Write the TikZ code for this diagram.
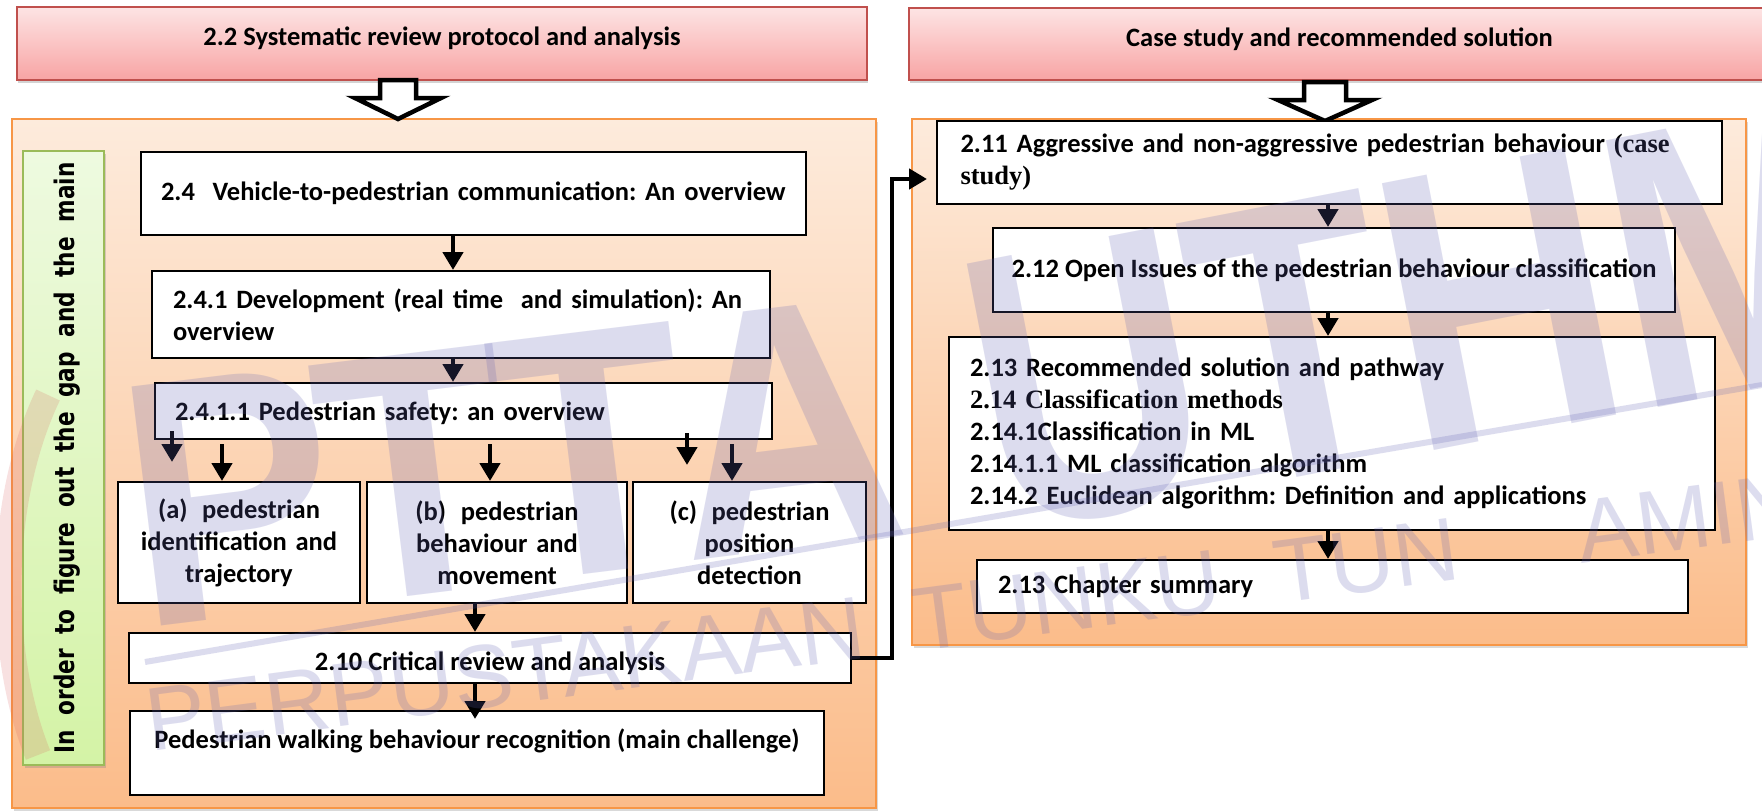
\documentclass[tikz,border=0pt]{standalone}
\usepackage{fontspec}
\setmainfont{Carlito}
\newfontfamily\tnrfont{Liberation Serif}
\newfontfamily\sidefont{DejaVu Sans}[FakeStretch=0.8]
\newfontfamily\wmbigfont{Liberation Sans}[FakeStretch=0.9]
\newfontfamily\wmbigfontR{Liberation Sans}[FakeStretch=0.8]
\newfontfamily\wmsmallfont{Liberation Sans}
\usetikzlibrary{arrows.meta,shadows}

\definecolor{hdtop}{RGB}{253,228,228}
\definecolor{hdbot}{RGB}{248,164,164}
\definecolor{hdline}{RGB}{192,80,77}
\definecolor{pntop}{RGB}{253,235,220}
\definecolor{pnbot}{RGB}{251,188,138}
\definecolor{pnline}{RGB}{247,150,70}
\definecolor{gntop}{RGB}{238,250,224}
\definecolor{gnbot}{RGB}{212,243,166}
\definecolor{gnline}{RGB}{155,187,89}
\definecolor{wmark}{RGB}{100,100,180}
\definecolor{wmring}{RGB}{215,90,90}

\newcommand\mainfs{\fontsize{26.5}{32}\selectfont\bfseries}
\frenchspacing

\begin{document}
\begin{tikzpicture}[x=1pt,y=-1pt,
  hdr/.style={draw=hdline, line width=1.5pt, top color=hdtop, bottom color=hdbot,
    inner sep=0pt, font=\mainfs,
    drop shadow={shadow xshift=1pt, shadow yshift=-3pt, opacity=0.35}},
  panel/.style={draw=pnline, line width=1.5pt, top color=pntop, bottom color=pnbot,
    drop shadow={shadow xshift=2pt, shadow yshift=-3pt, opacity=0.3}},
  side/.style={draw=gnline, line width=1.5pt, top color=gntop, bottom color=gnbot,
    drop shadow={shadow xshift=2pt, shadow yshift=-3pt, opacity=0.3}},
  wbox/.style={draw=black, line width=2pt, fill=white, inner sep=0pt, font=\mainfs},
  conn/.style={line width=4.5pt, -{Triangle[length=18pt,width=20pt]}},
  hollow/.style={draw=black, line width=4.5pt, fill=white, line join=miter},
  wm/.style={text=wmark, opacity=0.22, text opacity=0.22, inner sep=0pt},
]
\useasboundingbox (0,0) rectangle (1762,811);

% headers
\node[hdr, minimum width=850, minimum height=73, text height=12pt, text depth=8pt]
  (hL) at (442,43.5) {2.2 Systematic review protocol and analysis};
\node[hdr, minimum width=861, minimum height=72, text height=12pt, text depth=8pt]
  (hR) at (1339.5,44) {Case study and recommended solution};

% panels
\node[panel, minimum width=864, minimum height=689] (pL) at (444,463.5) {};
\node[panel, minimum width=834, minimum height=526] (pR) at (1329,382) {};
\node[side, minimum width=81, minimum height=614] (gs) at (63.5,458) {};
\node[rotate=90, anchor=base, inner sep=0pt, font=\sidefont\bfseries\fontsize{27}{27}\selectfont]
  (gsT) at (74,458) {\makebox[591pt][s]{In order to figure out the gap and the main}};

% block arrows below the headers
\draw[hollow] (380,80) -- (416,80) -- (416,98) -- (441,98) -- (398,119)
  -- (355,98) -- (380,98) -- cycle;
\draw[hollow] (1304,82) -- (1346,82) -- (1346,100) -- (1372,100) -- (1325,121)
  -- (1278,100) -- (1304,100) -- cycle;

% left column boxes
\node[wbox, minimum height=83, text width=625, inner xsep=20, align=left]
  (b24) at (473.5,193.5) {2.4\ \ Vehicle-to-pedestrian communication: An overview};
\node[wbox, minimum height=87, text width=576, inner xsep=21, align=left]
  (b241) at (461,314.5) {\makebox[576pt][s]{2.4.1 Development (real time\ \ and simulation): An}\\overview};
\node[wbox, minimum height=56, text width=577, inner xsep=20, align=left, text height=22pt, text depth=3pt]
  (b2411) at (463.5,411) {2.4.1.1 Pedestrian safety: an overview};
\node[wbox, minimum height=121, text width=230, inner xsep=6, align=center]
  (ba) at (239,542.5) {(a)\hspace{.55em}pedestrian\\identification and\\trajectory};
\node[wbox, minimum height=121, text width=248, inner xsep=6, align=center]
  (bb) at (497,542.5) {(b)\hspace{.55em}pedestrian\\behaviour and\\movement};
\node[wbox, minimum height=121, text width=221, inner xsep=6, align=center]
  (bc) at (749.5,542.5) {(c)\hspace{.55em}pedestrian\\position\\detection};
\node[wbox, minimum width=722, minimum height=50, text height=24pt, text depth=0pt]
  (b210) at (490,658) {2.10 Critical review and analysis};
\node[wbox, minimum width=694, minimum height=84, text height=5pt, text depth=15pt]
  (bwalk) at (477,753) {Pedestrian walking behaviour recognition (main challenge)};

% right column boxes
\node[wbox, minimum height=83, text width=738, inner xsep=23.5, align=left]
  (b211) at (1329.5,162.5) {\makebox[738pt][s]{2.11 Aggressive and non-aggressive pedestrian behaviour {\tnrfont(case}}\\{\tnrfont study)}};
\node[wbox, minimum width=682, minimum height=84]
  (b212) at (1334,270) {2.12 Open Issues of the pedestrian behaviour classification};
\node[wbox, minimum height=193, text width=724, inner xsep=21, align=left]
  (b213) at (1332,433.5) {2.13 Recommended solution and pathway\\{\tnrfont 2.14 Classification methods}\\2.14.1Classification in ML\\2.14.1.1 ML classification algorithm\\2.14.2 Euclidean algorithm: Definition and applications};
\node[wbox, minimum height=53, text width=669, inner xsep=21, align=left]
  (bsum) at (1332.5,586.5) {2.13 Chapter summary};

% arrow columns
\coordinate (cA) at (453,0);
\coordinate (cL1) at (222,0);
\coordinate (cL2) at (490,0);
\coordinate (cL3) at (732,0);
\coordinate (cB) at (475,0);
\coordinate (cR) at (1328,0);
\coordinate (sa1) at (172,431);
\coordinate (sa2) at (172,462);
\coordinate (sb1) at (687,433);
\coordinate (sb2) at (687,465);
\coordinate (bend) at (892,179);

\draw[conn] (b24.south -| cA) -- (b241.north -| cA);
\draw[conn] (b241.south -| cA) -- (b2411.north -| cA);
\draw[conn] (sa1) -- (sa2);
\draw[conn] (sb1) -- (sb2);
\draw[conn, shorten <=4pt] (b2411.south -| cL1) -- (ba.north -| cL1);
\draw[conn, shorten <=4pt] (b2411.south -| cL2) -- (bb.north -| cL2);
\draw[conn, shorten <=4pt] (b2411.south -| cL3) -- (bc.north -| cL3);
\draw[conn] (bb.south -| cB) -- (b210.north -| cB);
\draw[conn, shorten >=-9pt] (b210.south -| cB) -- (bwalk.north -| cB);
\draw[conn, line join=miter, shorten >=9pt] (b210.east) -| (bend) -- (b211.west |- bend);
\draw[conn] (b211.south -| cR) -- (b212.north -| cR);
\draw[conn] (b212.south -| cR) -- (b213.north -| cR);
\draw[conn] (b213.south -| cR) -- (bsum.north -| cR);

% library watermark
\coordinate (wl1) at (145,662);
\coordinate (wl2) at (1762,385);
\coordinate (wr1) at (48,395);
\coordinate (wr2) at (38,755);
\draw[wmring, opacity=0.18, line width=26pt] (wr1) .. controls (-2,500) and (-4,650) .. (wr2);
\draw[wmark, opacity=0.22, line width=6pt] (wl1) -- (wl2);
\node[wm, anchor=base west, rotate=7, font=\wmbigfont\bfseries\fontsize{350}{350}\selectfont]
  (wmL) at (140,629) {P\kern-15pt T\kern-15pt T\kern-15pt A};
\node[wm, anchor=base west, rotate=11, font=\wmbigfontR\bfseries\fontsize{395}{395}\selectfont]
  (wmR) at (1000,535) {UTHM};
\node[wm, anchor=base west, rotate=7.5, font=\wmsmallfont\fontsize{90}{90}\selectfont]
  (wmS) at (150,752) {PERPUSTAKAAN\hspace{50pt}TUNKU\hspace{55pt}TUN\hspace{120pt}AMINAH};
\end{tikzpicture}
\end{document}
